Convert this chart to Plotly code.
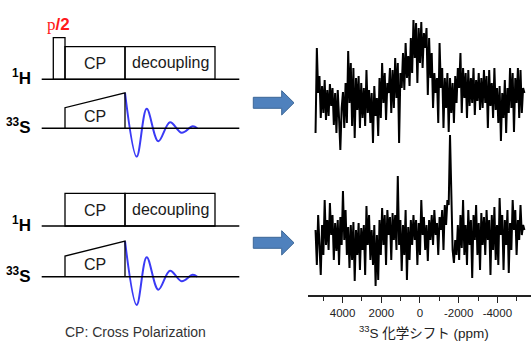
import plotly.graph_objects as go

# ---------------- data ----------------
ppm_start = 5400
ppm_step = -67.5

# upper spectrum (intensity, arbitrary units, baseline = 0)
top_intensity = [
    -35, 50, 5, 22, -20, 12, -15, 18, -22, 8,
    -18, 14, -8, 10, -27, 5, -35, 8, -20, -52,
    -10, 6, -30, 15, -25, 47, -5, 35, -28, 30,
    -40, 20, -12, 22, -30, 15, -20, 10, -28, 28,
    -15, 8, -25, 5, -45, 12, -18, 0, -38, 20,
    -20, 35, -5, 25, -22, 15, 5, 30, -15, 28,
    -10, 40, 0, 35, -45, 25, 10, 45, 8, 55,
    20, 42, 12, 60, 25, 78, 40, 75, 15, 70,
    35, 76, 30, 65, 50, 70, 3, 60, 20, 45,
    -10, 25, 5, 20, -25, 55, 10, 30, -30, 20,
    -10, 25, -34, 20, -15, 15, -25, 22, -5, 30,
    10, 45, -15, 30, 0, 25, -20, 28, -8, 20,
    -5, 30, -17, 18, -3, 25, -12, 20, -10, 28,
    -5, 22, -30, 28, -8, 15, -20, 30, -12, 10,
    -25, 12, -43, 5, -20, 18, -35, 10, -15, 30,
    -10, 25, -34, 20, -5, 30, -20, 28, -15, 10,
    5,
]

# lower spectrum (intensity, arbitrary units, baseline = 0)
bottom_intensity = [
    5, -30, 20, -5, -40, 10, -20, 35, -10, 15,
    -15, 32, 0, 20, -25, 12, -16, 15, -30, 18,
    -10, 44, -5, 25, -20, 8, -33, 10, -25, 13,
    -46, 5, -20, 12, -35, 7, -15, 10, -40, 29,
    -10, 20, -25, 5, -30, 10, -51, 0, -45, 15,
    -20, 27, -10, 20, -30, 25, 0, 18, -25, 22,
    -5, 20, -15, 59, -10, 15, -36, 10, -20, 25,
    -45, 8, -25, 15, -10, 20, -5, 15, -30, 12,
    -20, 35, 0, 18, -15, 10, -26, 15, -5, 20,
    -10, 25, 0, 12, -20, 18, 5, 25, -15, 30,
    10, 35, 30, 100, 40, -15, -28, -5, -20, 10,
    -25, 20, -13, 35, -20, 10, -30, 25, -10, 15,
    -43, 20, -5, 30, -20, 12, -35, 22, -10, 18,
    -20, 25, -5, 15, -40, 20, -15, 28, -25, 10,
    -30, 37, 0, 20, -35, 15, -10, 25, -38, 12,
    -15, 35, 5, 25, -20, 15, -5, 30, 0, 10,
    5,
]

ppm_top = [ppm_start + ppm_step * i for i in range(len(top_intensity))]
ppm_bottom = [ppm_start + ppm_step * i for i in range(len(bottom_intensity))]

major_tick_vals = [4000, 2000, 0, -2000, -4000]
major_tick_labels = ["4000", "2000", "0", "-2000", "-4000"]
axis_title = "<sup>33</sup>S 化学シフト (ppm)"

# FID illustration: extrema (time offset, amplitude)
fid_t = [0, 11.7, 21.7, 33.3, 45, 56.7, 67.7, 72.3]
fid_amp = [35.5, -28.3, 19.5, -13, 6, -4.5, 2, 0]

# ---------------- figure ----------------
W, H = 531, 344
FONT = "Liberation Sans, Arial, Noto Sans CJK JP, sans-serif"
SPEC_COLOR = "black"

fig = go.Figure()

fig.add_trace(go.Scatter(x=ppm_top, y=top_intensity, xaxis="x", yaxis="y2",
                         mode="lines", line=dict(color=SPEC_COLOR, width=2.0),
                         showlegend=False, hoverinfo="skip"))
fig.add_trace(go.Scatter(x=ppm_bottom, y=bottom_intensity, xaxis="x", yaxis="y",
                         mode="lines", line=dict(color=SPEC_COLOR, width=2.0),
                         showlegend=False, hoverinfo="skip"))

# ---------------- pulse-sequence diagram (pixel-like coords on x3/y3) ----------------
shapes = []
annotations = []
LINE_X0, LINE_X1 = 41.7, 239.3
T_PULSE0, T_CP0, T_CP1, T_DEC1 = 53.3, 65.0, 125.0, 215.0
blocks = [
    # (1H baseline, 33S baseline, has pi/2 pulse)
    dict(h=79.3, s=128.3, pulse=True),
    dict(h=226.0, s=276.7, pulse=False),
]
lw = 1.3
for b in blocks:
    h, s = b["h"], b["s"]
    top = h - 32.6
    shapes.append(dict(type="line", x0=LINE_X0, x1=LINE_X1, y0=h, y1=h,
                       line=dict(color="black", width=1.6)))
    shapes.append(dict(type="line", x0=LINE_X0, x1=LINE_X1, y0=s, y1=s,
                       line=dict(color="black", width=1.6)))
    if b["pulse"]:
        shapes.append(dict(type="rect", x0=T_PULSE0, x1=T_CP0, y0=h - 41.6, y1=h,
                           line=dict(color="black", width=lw)))
    shapes.append(dict(type="rect", x0=T_CP0, x1=T_CP1, y0=top, y1=h,
                       line=dict(color="black", width=lw)))
    shapes.append(dict(type="rect", x0=T_CP1, x1=T_DEC1, y0=top, y1=h,
                       line=dict(color="black", width=lw)))
    # CP ramp on 33S
    shapes.append(dict(type="path",
                       path=f"M{T_CP0},{s} L{T_CP0},{s-20.6} L{T_CP1},{s-35.5} L{T_CP1},{s}",
                       line=dict(color="black", width=lw)))
    annotations += [
        dict(x=(T_CP0 + T_CP1) / 2, y=(top + h) / 2 + 0.5, text="CP",
             font=dict(size=16, color="#1a1a1a", family=FONT)),
        dict(x=(T_CP1 + T_DEC1) / 2, y=(top + h) / 2 - 0.5, text="decoupling",
             font=dict(size=16, color="#1a1a1a", family=FONT)),
        dict(x=(T_CP0 + T_CP1) / 2, y=s - 12, text="CP",
             font=dict(size=16, color="#1a1a1a", family=FONT)),
        dict(x=33, y=h - 2, xanchor="right", text="<b><sup>1</sup>H</b>",
             font=dict(size=17, color="black", family=FONT)),
        dict(x=33, y=s - 2, xanchor="right", text="<b><sup>33</sup>S</b>",
             font=dict(size=17, color="black", family=FONT)),
    ]
    fig.add_trace(go.Scatter(x=[T_CP1 + t for t in fid_t], y=[s - a for a in fid_amp],
                             xaxis="x3", yaxis="y3", mode="lines",
                             line=dict(color="#3a3af5", width=2, shape="spline", smoothing=1.0),
                             showlegend=False, hoverinfo="skip"))

# pi/2 label
annotations.append(dict(x=45, y=24, xanchor="left",
                        text="<span style='font-family:Liberation Serif'>p</span><b>/2</b>",
                        font=dict(size=17, color="#ff1a1a", family=FONT)))
annotations.append(dict(x=135, y=332, text="CP: Cross Polarization",
                        font=dict(size=14, color="#333333", family=FONT)))

# arrows
for cy in (102.8, 242.8):
    shapes.append(dict(type="path",
                       path=(f"M253.3,{cy-5.5} L281.7,{cy-5.5} L281.7,{cy-12.1} L294,{cy} "
                             f"L281.7,{cy+12.2} L281.7,{cy+5.5} L253.3,{cy+5.5} Z"),
                       fillcolor="#4f81bd", line=dict(color="#3c6797", width=1)))

for s_ in shapes:
    s_.setdefault("xref", "x3")
    s_.setdefault("yref", "y3")
for a in annotations:
    a.setdefault("xref", "x3")
    a.setdefault("yref", "y3")
    a.setdefault("showarrow", False)
    a.setdefault("xanchor", "center")
    a.setdefault("yanchor", "middle")

# axis title for spectra
annotations.append(dict(x=424, y=332, xref="x3", yref="y3", showarrow=False,
                        text=axis_title, xanchor="center", yanchor="middle",
                        font=dict(size=13.5, color="#222222", family=FONT)))

fig.update_layout(
    width=W, height=H,
    margin=dict(l=0, r=0, t=0, b=0),
    paper_bgcolor="white",
    plot_bgcolor="rgba(0,0,0,0)",
    font=dict(family=FONT),
    shapes=shapes,
    annotations=annotations,
    xaxis=dict(domain=[308 / W, 1], range=[5790, -5740], anchor="free",
               position=1 - 296 / H,
               showline=True, linecolor="#222222", linewidth=1.5,
               ticks="outside", ticklen=6, tickwidth=1.3, tickcolor="#222222",
               tickmode="array", tickvals=major_tick_vals, ticktext=major_tick_labels,
               tickfont=dict(size=11.5, color="#222222", family=FONT),
               minor=dict(ticks="outside", ticklen=4, tickwidth=1.2, tickcolor="#222222",
                          tickmode="linear", tick0=0, dtick=1000, showgrid=False),
               showgrid=False, zeroline=False, fixedrange=True),
    yaxis=dict(domain=[1 - 292 / H, 1 - 130 / H], range=[-57, 105], visible=False,
               anchor="free", position=0.6, fixedrange=True),
    yaxis2=dict(domain=[1 - 170 / H, 1 - 15 / H], range=[-72, 83], visible=False,
                anchor="free", position=0.6, fixedrange=True),
    xaxis3=dict(domain=[0, 1], range=[0, W], visible=False, anchor="y3", fixedrange=True),
    yaxis3=dict(domain=[0, 1], range=[H, 0], visible=False, anchor="x3", fixedrange=True),
)

fig.write_html("out.html", config={"displayModeBar": False},
               post_script="document.body.style.margin='0';document.body.style.overflow='hidden';")
